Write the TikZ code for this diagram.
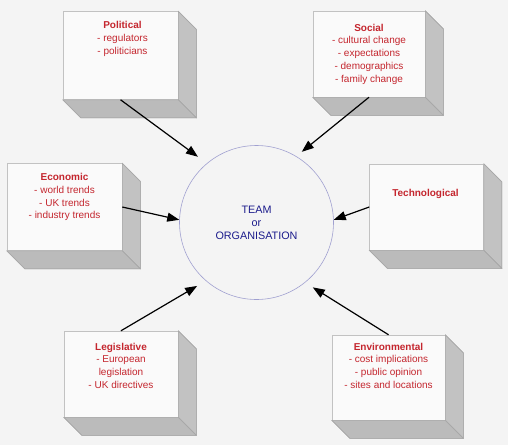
\documentclass[tikz,border=0pt]{standalone}
\usepackage{fontspec}
\setmainfont{Liberation Sans}
\usetikzlibrary{arrows.meta,calc}
\definecolor{bg}{HTML}{F4F4F4}
\definecolor{frontc}{HTML}{FAFAFA}
\definecolor{sidec}{HTML}{C2C2C2}
\definecolor{botc}{HTML}{BBBBBB}
\definecolor{edgec}{HTML}{A8A8A8}
\definecolor{redtxt}{HTML}{C4262E}
\definecolor{bluetxt}{HTML}{1C1C8C}
\definecolor{circc}{HTML}{A0A0D0}
\tikzset{
  front/.style={draw=edgec!70, line width=0.5pt, fill=frontc, inner sep=0pt},
  sideface/.style={fill=sidec, draw=edgec, line width=0.5pt},
  botface/.style={fill=botc, draw=edgec, line width=0.5pt},
  lbl/.style={text=redtxt, align=center, inner sep=0pt, anchor=north,
    font=\fontsize{10}{12.7}\selectfont},
  arr/.style={-{Triangle[length=12pt,width=9pt]}, line width=1.2pt, black},
}
\newcommand{\extbox}[1]{%
  \fill[sideface] (#1.north east) -- ++(18,18) -- ($(#1.south east)+(18,18)$) -- (#1.south east) -- cycle;
  \fill[botface] (#1.south west) -- ++(18,18) -- ($(#1.south east)+(18,18)$) -- (#1.south east) -- cycle;
  \draw[edgec, line width=0.5pt] (#1.north east) -- ++(18,18) -- ($(#1.south east)+(18,18)$) -- ($(#1.south west)+(18,18)$) -- (#1.south west);
  \draw[edgec, line width=0.5pt] (#1.south east) -- ++(18,18);
}
\begin{document}
\begin{tikzpicture}[x=1pt,y=-1pt]
\fill[bg] (0,0) rectangle (508,445);
\useasboundingbox (0,0) rectangle (508,445);

% front faces
\node[front, minimum width=115pt, minimum height=88pt] (pol) at (120.5,55.5) {};
\node[front, minimum width=112pt, minimum height=86pt] (soc) at (369,54) {};
\node[front, minimum width=115pt, minimum height=87pt] (eco) at (64.5,207) {};
\node[front, minimum width=114pt, minimum height=86pt] (tec) at (426.5,207) {};
\node[front, minimum width=114pt, minimum height=86pt] (leg) at (121,374) {};
\node[front, minimum width=113pt, minimum height=85pt] (env) at (388.5,377.5) {};

\extbox{pol}
\extbox{soc}
\extbox{eco}
\extbox{tec}
\extbox{leg}
\extbox{env}

% texts
\node[lbl] (tpol) at ($(pol.north)+(2,10)$) {\textbf{Political}\\- regulators\\- politicians};
\node[lbl] (tsoc) at ($(soc.north)+(0,13)$) {\textbf{Social}\\- cultural change\\- expectations\\- demographics\\- family change};
\node[lbl] (teco) at ($(eco.north)+(0,10)$) {\textbf{Economic}\\- world trends\\- UK trends\\- industry trends};
\node[lbl] (ttec) at ($(tec.north)+(-1,25)$) {\textbf{Technological}};
\node[lbl] (tleg) at ($(leg.north)+(0,12)$) {\textbf{Legislative}\\- European\\legislation\\- UK directives};
\node[lbl] (tenv) at ($(env.north)+(0,8)$) {\textbf{Environmental}\\- cost implications\\- public opinion\\- sites and locations};

% centre circle
\node[circle, draw=circc, line width=0.6pt, minimum size=154pt, inner sep=0pt,
  text=bluetxt, align=center, font=\fontsize{10.8}{13}\selectfont] (circ) at (256.5,222.5)
  {TEAM\\or\\ORGANISATION};

% arrows
\draw[arr, shorten >=11pt] (pol.south) -- (circ.130);
\draw[arr, shorten >=7pt] (soc.south) -- (circ.59);
\draw[arr] (eco.east) -- (circ.178);
\draw[arr] (tec.west) -- (circ.2);
\draw[arr, shorten >=10pt] (leg.north) -- (circ.229);
\draw[arr, shorten >=9pt] (env.north) -- (circ.309);
\end{tikzpicture}
\end{document}
